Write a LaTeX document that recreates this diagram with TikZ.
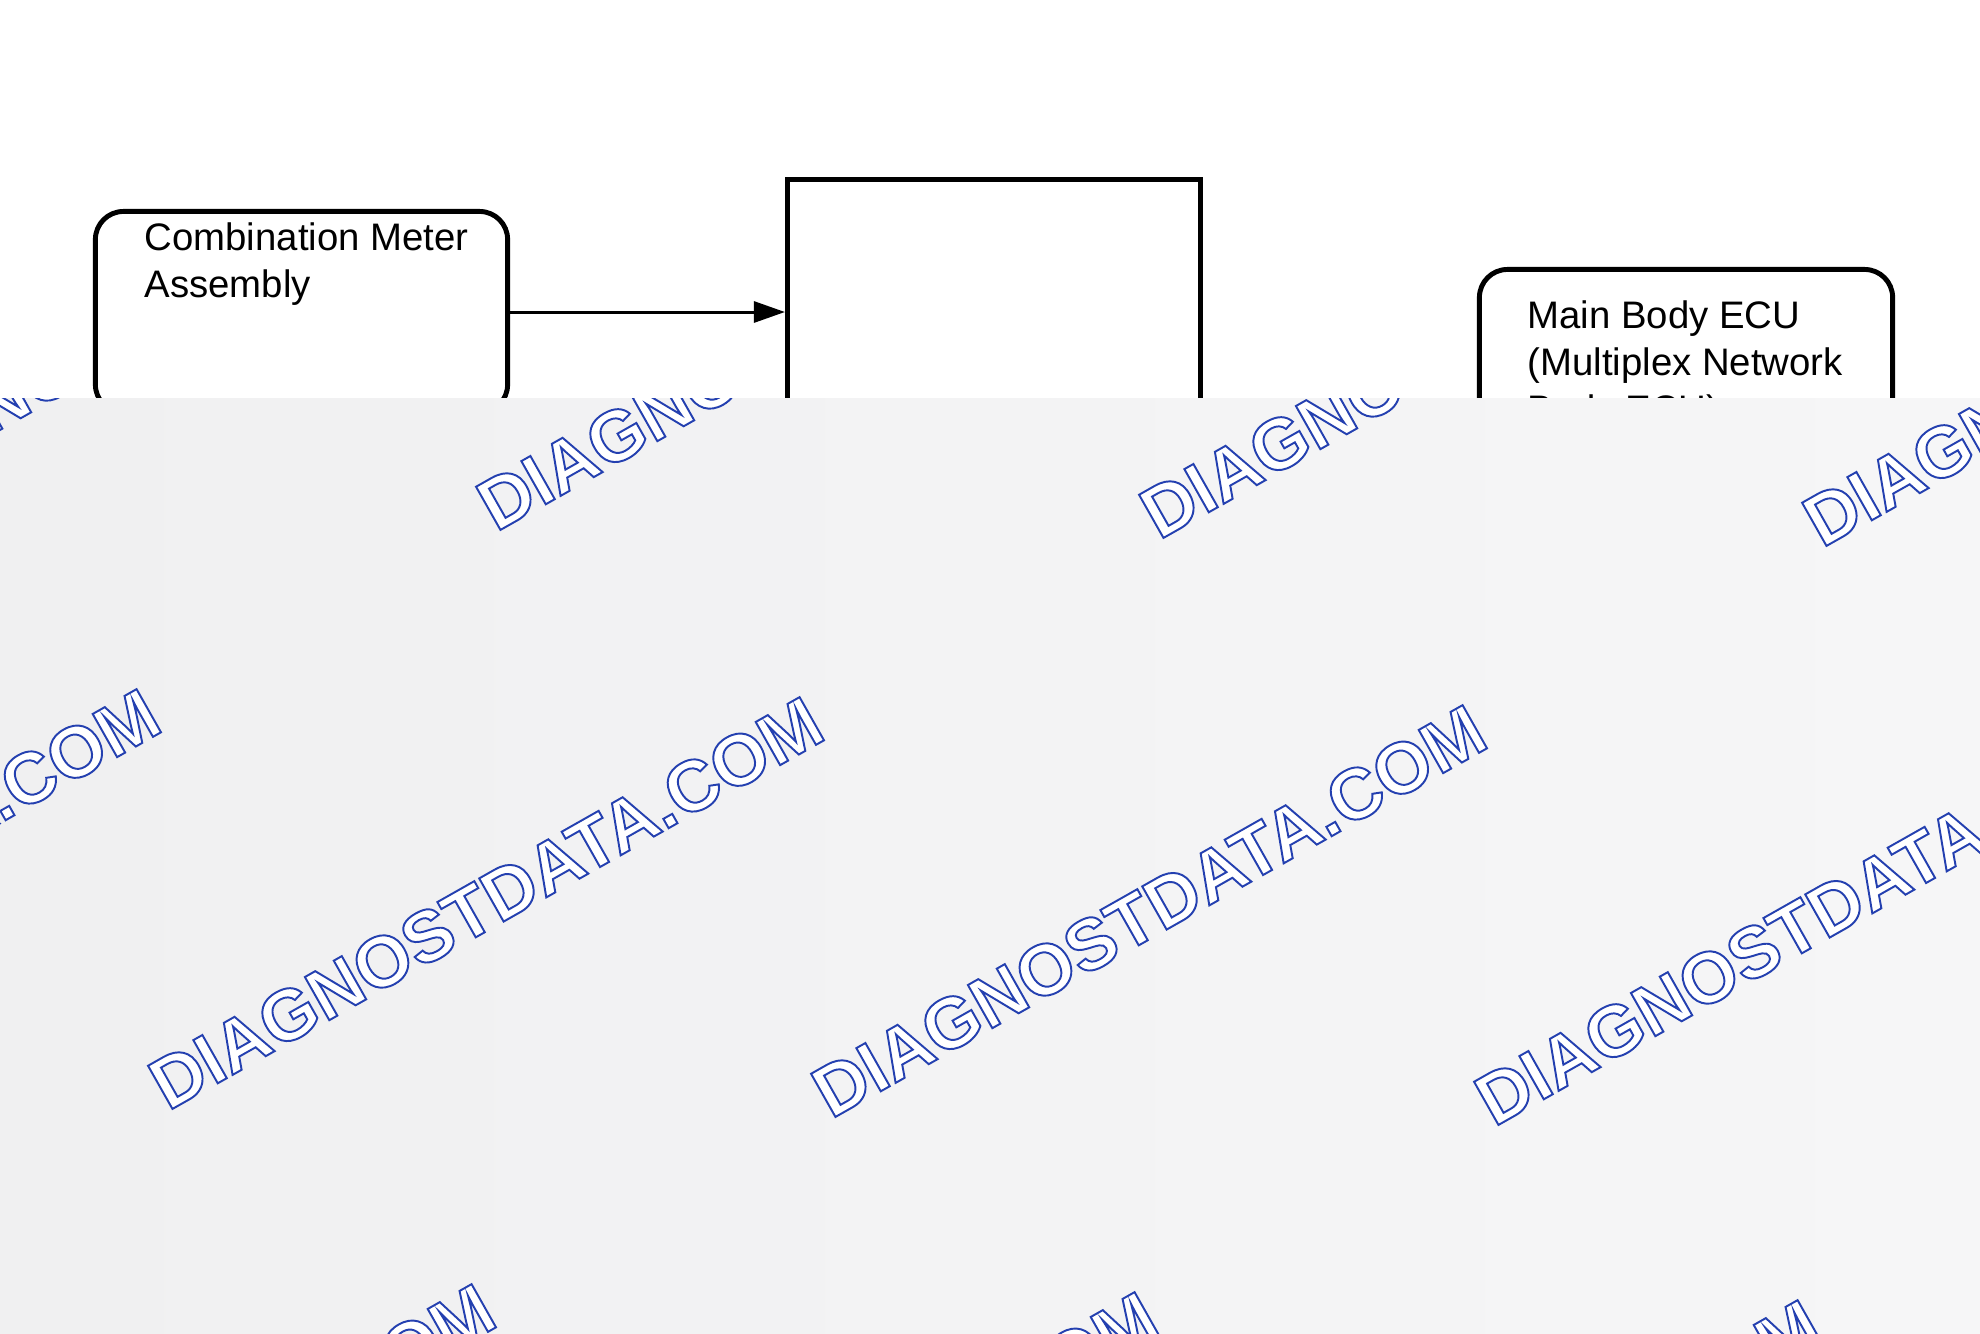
\documentclass[tikz,border=0pt]{standalone}
\usepackage{fontspec}
\setmainfont{Liberation Sans}
\usetikzlibrary{arrows.meta,positioning}
\definecolor{wmblue}{RGB}{36,64,176}
\definecolor{veilleft}{RGB}{240,240,241}
\definecolor{veilmid}{RGB}{250,250,250}
\definecolor{veilright}{RGB}{246,246,247}
\newcommand{\hollow}[1]{\special{pdf:literal direct 2 Tr 0.55 w 0.141 0.251 0.69 RG}#1\special{pdf:literal direct 0 Tr}}

\begin{document}
\begin{tikzpicture}[x=0.01cm, y=-0.01cm]
  \tikzstyle{unit} = [draw, line width=1.4pt, rounded corners=0.28cm, inner sep=0]
  \tikzstyle{block} = [draw, line width=1.4pt, inner sep=0]
  \tikzstyle{tag} = [font=\fontsize{10.9}{13.4}\selectfont, align=left,
                     anchor=north west, inner sep=0]
\tikzset{link/.style={-{Triangle[length=3.1mm,width=2.1mm]}, line width=0.85pt}}
\tikzset{wmtext/.style={text=white, font=\fontsize{20.5}{20.5}\selectfont\bfseries,
                        rotate=29.5, inner sep=0}}
\useasboundingbox (0,0) rectangle (1980,1333);

\node[unit, minimum width=4.12cm, minimum height=2.01cm] (meter) at (301.5,312) {};
\node[block, minimum width=4.13cm, minimum height=2.65cm] (gate) at (994,312) {};
\node[unit, minimum width=4.13cm, minimum height=2.0cm] (mainecu) at (1686,369.5) {};

\node[tag] (metertxt) at ([xshift=0.51cm, yshift=-0.13cm]meter.north west)
  {Combination Meter\\Assembly};
\node[tag] (mainecutxt) at ([xshift=0.50cm, yshift=-0.33cm]mainecu.north west)
  {Main Body ECU\\(Multiplex Network\\Body ECU)};

\draw[link] (meter) -- (gate);

% veil with the watermark
\path[left color=veilleft, middle color=veilmid, right color=veilright]
  (0,398) rectangle (1980,1333);
\begin{scope}
\clip (0,398) rectangle (1980,1333);
\foreach \wx/\wy [count=\wn] in {151/316, 814/324, 1477/332, 2140/340,
                                 -177/895, 486/903, 1149/911, 1812/919,
                                 158/1490, 821/1498, 1484/1506}
  \node[wmtext] (wm\wn) at (\wx,\wy) {\hollow{DIAGNOSTDATA.COM}};
\end{scope}

\end{tikzpicture}
\end{document}
